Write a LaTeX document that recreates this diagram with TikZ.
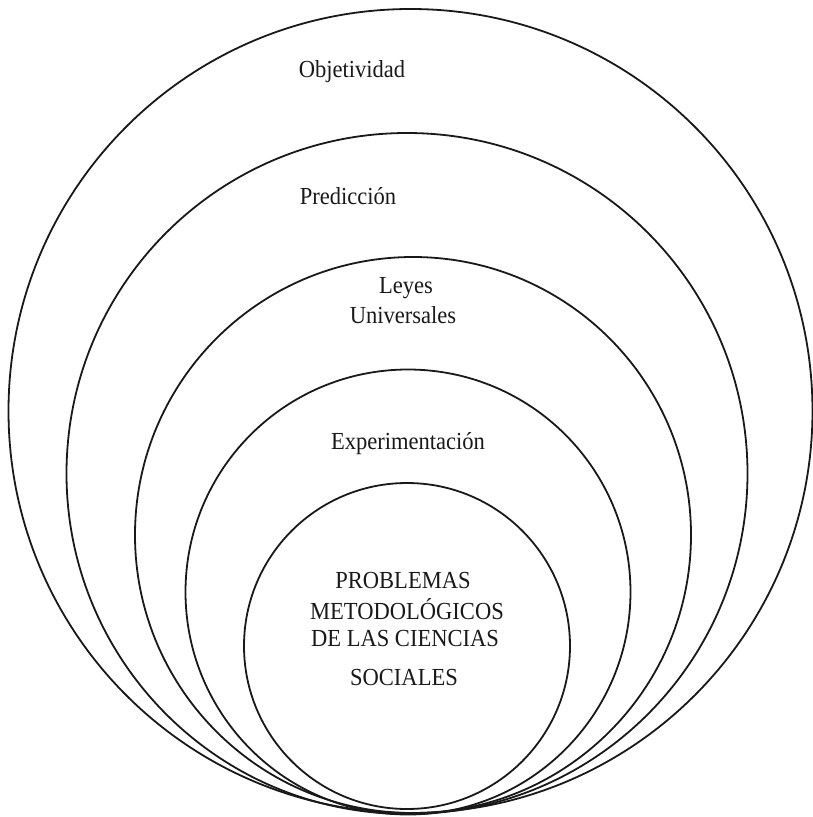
\documentclass[tikz,border=0pt]{standalone}
\usepackage{fontspec}
\setmainfont[FakeStretch=0.92]{Liberation Serif}
\begin{document}
\begin{tikzpicture}[x=1pt,y=-1pt,
  ring/.style={line width=1.8pt, draw=black!90},
  lbl/.style={anchor=base, inner sep=0pt, font=\fontsize{24.5}{28}\selectfont, text=black!90}]
\useasboundingbox (0,0) rectangle (813,817);
% nested circles, all touching near the bottom
\draw[ring] (410.5,411) circle (402);
\draw[ring] (407,473.5) circle (340.5);
\draw[ring] (413,535) circle (278);
\draw[ring] (408,592) circle (222.5);
\draw[ring] (407,646) circle (163);
% labels
\node[lbl] (obj) at (352,77) {Objetividad};
\node[lbl] (pred) at (348,204) {Predicción};
\node[lbl] (ley1) at (406,293) {Leyes};
\node[lbl] (ley2) at (403,323) {Universales};
\node[lbl] (exp) at (408,449) {Experimentación};
\node[lbl] (p1) at (403,588) {PROBLEMAS};
\node[lbl] (p2) at (407,619) {METODOLÓGICOS};
\node[lbl] (p3) at (405,646) {DE LAS CIENCIAS};
\node[lbl] (p4) at (404,685) {SOCIALES};
\end{tikzpicture}
\end{document}
